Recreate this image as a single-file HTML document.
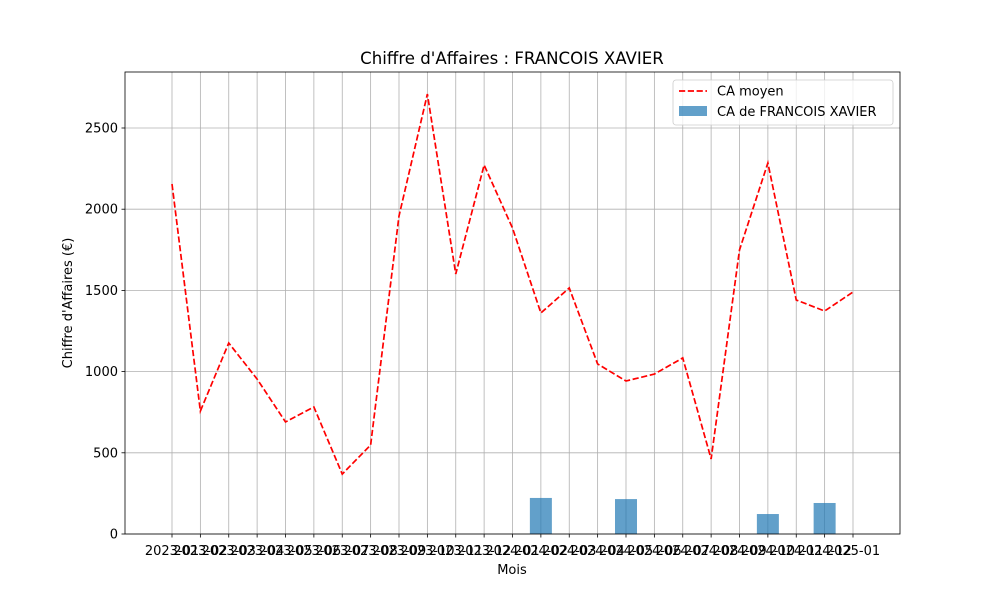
<!DOCTYPE html>
<html><head><meta charset="utf-8"><style>
body{margin:0;background:#fff}
svg{font-family:"DejaVu Sans","Liberation Sans",sans-serif}
</style></head><body>
<svg id="c" width="1000" height="600" xmlns="http://www.w3.org/2000/svg"></svg>
<script>
const months=["2023-01","2023-02","2023-03","2023-04","2023-05","2023-06","2023-07","2023-08","2023-09","2023-10","2023-11","2023-12","2024-01","2024-02","2024-03","2024-04","2024-05","2024-06","2024-07","2024-08","2024-09","2024-10","2024-11","2024-12","2025-01"];
const avgValues=[2155,757,1176,954,690,782,369,548,1958,2709,1601,2272,1884,1361,1515,1047,942,985,1084,462,1749,2285,1441,1373,1490];
const barMonths=["2024-02","2024-05","2024-10","2024-12"];
const barValues=[222,215,123,191];
const yTicks=[0,500,1000,1500,2000,2500];
const NS="http://www.w3.org/2000/svg";
const svg=document.getElementById('c');
const L=125,R=900,T=72,B=534;
const x=i=>172+i*(853-172)/24;
const y=v=>B-v*406/2500;
function mk(t,a,p){const e=document.createElementNS(NS,t);for(const k in a)e.setAttribute(k,a[k]);(p||svg).appendChild(e);return e;}
months.forEach((m,i)=>{
 const g=mk('line',{x1:x(i),x2:x(i),y1:T,y2:B,stroke:'#b0b0b0','stroke-width':0.8});
 
 
 mk('line',{x1:x(i),x2:x(i),y1:B,y2:B+3.5,stroke:'#000','stroke-width':0.8});
 const t=mk('text',{x:x(i),y:555,'font-size':13,'text-anchor':'middle'});t.textContent=m;
 
 
});
yTicks.forEach(v=>{
 const g=mk('line',{x1:L,x2:R,y1:y(v),y2:y(v),stroke:'#b0b0b0','stroke-width':0.8});
 
 
 mk('line',{x1:L-3.5,x2:L,y1:y(v),y2:y(v),stroke:'#000','stroke-width':0.8});
 const t=mk('text',{x:L-7,y:y(v)+4.5,'font-size':13,'text-anchor':'end'});t.textContent=v;
 
 
});
barMonths.forEach((m,j)=>{
 const i=months.indexOf(m);
 const r=mk('rect',{x:x(i)-11,y:y(barValues[j]),width:22,height:B-y(barValues[j]),fill:'#1f77b4','fill-opacity':0.7});
 
 
});
const pl=mk('polyline',{points:avgValues.map((v,i)=>x(i)+','+y(v)).join(' '),fill:'none',stroke:'#ff0000','stroke-width':1.7,'stroke-dasharray':'6.2,2.6'});


const f=mk('rect',{x:L,y:T,width:R-L,height:B-T,fill:'none',stroke:'#000','stroke-width':0.8});


let t=mk('text',{x:512,y:64,'font-size':16.6,'text-anchor':'middle'});t.textContent="Chiffre d'Affaires : FRANCOIS XAVIER";


t=mk('text',{x:512,y:574,'font-size':13,'text-anchor':'middle'});t.textContent="Mois";


t=mk('text',{x:0,y:0,'font-size':13,'text-anchor':'middle',transform:'translate(72,303) rotate(-90)'});t.textContent="Chiffre d'Affaires (€)";


const lg=mk('g',{});


mk('rect',{x:673,y:80,width:220,height:45,rx:3,fill:'#fff','fill-opacity':0.8,stroke:'#cccccc','stroke-width':0.8},lg);
mk('line',{x1:679,x2:707,y1:91,y2:91,stroke:'#ff0000','stroke-width':1.7,'stroke-dasharray':'6.2,2.6'},lg);
t=mk('text',{x:717,y:95.5,'font-size':13},lg);t.textContent="CA moyen";


mk('rect',{x:679,y:106,width:28,height:10,fill:'#1f77b4','fill-opacity':0.7},lg);
t=mk('text',{x:717,y:116,'font-size':13},lg);t.textContent="CA de FRANCOIS XAVIER";


</script>
</body></html>
